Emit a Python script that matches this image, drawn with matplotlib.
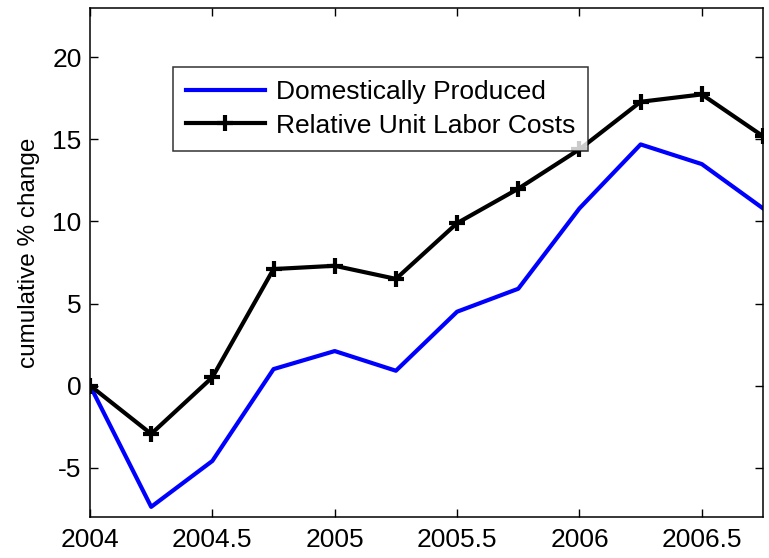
import matplotlib
matplotlib.use("Agg")
import matplotlib.pyplot as plt

plt.rcParams['font.family'] = ['Liberation Sans', 'DejaVu Sans']

quarters = [2004.0, 2004.25, 2004.5, 2004.75, 2005.0, 2005.25,
            2005.5, 2005.75, 2006.0, 2006.25, 2006.5, 2006.75]
domestic = [0.0, -7.4, -4.6, 1.0, 2.1, 0.9, 4.5, 5.9, 10.8, 14.7, 13.5, 10.8]
unit_labor = [0.0, -2.95, 0.5, 7.1, 7.3, 6.5, 9.9, 12.0, 14.4, 17.3, 17.75, 15.2]

xticks = [2004, 2004.5, 2005, 2005.5, 2006, 2006.5]
xticklabels = ['2004', '2004.5', '2005', '2005.5', '2006', '2006.5']
yticks = [-5, 0, 5, 10, 15, 20]

fig = plt.figure(figsize=(7.69, 5.58), dpi=100)
ax = fig.add_axes([90 / 769, 1 - 516.7 / 558, (763 - 90) / 769, (516.7 - 8.3) / 558])

ax.plot(quarters, domestic, color='#0000ff', lw=3.0, label='Domestically Produced')
ax.plot(quarters, unit_labor, color='black', lw=3.0, marker='+', ms=11, mew=3.0,
        label='Relative Unit Labor Costs')

ax.set_xlim(2004, 2006.75)
ax.set_ylim(-8, 23)
ax.set_xticks(xticks)
ax.set_xticklabels(xticklabels)
ax.set_yticks(yticks)
ax.set_yticklabels([str(v) for v in yticks])
ax.tick_params(direction='in', top=True, right=True, labelsize=19, length=6, width=1, pad=6)
ax.tick_params(axis='x', pad=8)
for s in ax.spines.values():
    s.set_linewidth(1.1)

ax.set_ylabel('cumulative % change', fontsize=17.5)
ax.yaxis.set_label_coords(-0.074, 0.52)

leg = ax.legend(loc='upper left', bbox_to_anchor=((172.7 - 90) / 673, (516.7 - 67.3) / 508.4),
                fontsize=19, frameon=True, fancybox=False, edgecolor='black',
                handlelength=3.0, borderpad=0.5, labelspacing=0.35, handletextpad=0.4,
                borderaxespad=0)
leg.get_frame().set_linewidth(1.1)

fig.savefig('out.png', dpi=100)
